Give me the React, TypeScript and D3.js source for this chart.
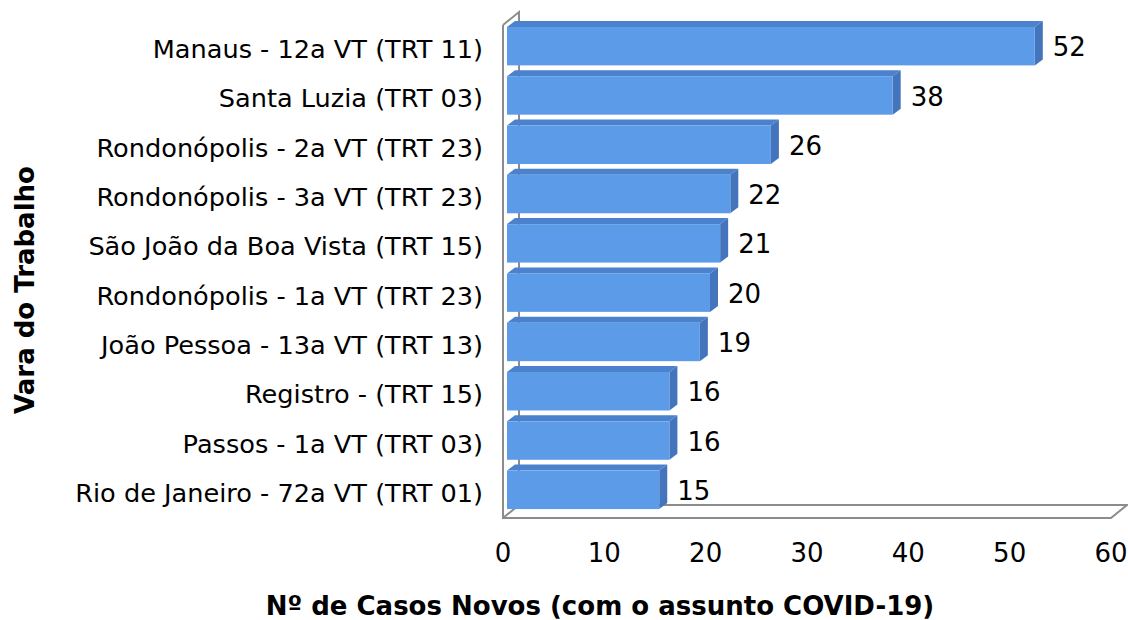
import * as React from 'react'
import * as d3 from 'd3'

const categories = [
    'Manaus - 12a VT (TRT 11)',
    'Santa Luzia (TRT 03)',
    'Rondonópolis - 2a VT (TRT 23)',
    'Rondonópolis - 3a VT (TRT 23)',
    'São João da Boa Vista (TRT 15)',
    'Rondonópolis - 1a VT (TRT 23)',
    'João Pessoa - 13a VT (TRT 13)',
    'Registro - (TRT 15)',
    'Passos - 1a VT (TRT 03)',
    'Rio de Janeiro - 72a VT (TRT 01)',
]
const values = [52, 38, 26, 22, 21, 20, 19, 16, 16, 15]
const ticks = [0, 10, 20, 30, 40, 50, 60]

const W = 1128
const H = 620
const font = 'DejaVu Sans, sans-serif'

// 3d offsets
const DX = 16
const DY = 13
const bdx = 8
const bdy = 6

export default function App() {
    const x = d3.scaleLinear().domain([0, 60]).range([503, 1111])
    const xb = d3.scaleLinear().domain([0, 60]).range([507, 1116])
    const y = d3.scaleBand().domain(categories).range([22, 514]).paddingInner(0.22).paddingOuter(0.1)

    const top = 25
    const bottom = 518
    const x0 = x(0)
    const x1 = x(60)

    return <svg width={W} height={H} style={{ position: 'absolute', left: 0, top: 0 }}>
        <rect width={W} height={H} fill='#fff' />
        {/* walls */}
        <g stroke='#8c8c8c' strokeWidth={2} fill='none'>
            <path d={`M${x0},${top} L${x0 + DX},${top - DY} L${x0 + DX},${bottom - DY}`} />
            <path d={`M${x0},${top} L${x0},${bottom} L${x1},${bottom} L${x1 + DX},${bottom - DY} L${x0 + DX},${bottom - DY} L${x0},${bottom}`} />
        </g>
        {/* bars */}
        {categories.map((c, i) => {
            const y0 = y(c)!
            const h = y.bandwidth()
            const xl = xb(0)
            const xr = xb(values[i])
            return <g key={c}>
                <path d={`M${xl},${y0} L${xl + bdx},${y0 - bdy} L${xr + bdx},${y0 - bdy} L${xr},${y0} Z`} fill='#4b82cd' />
                <path d={`M${xr},${y0} L${xr + bdx},${y0 - bdy} L${xr + bdx},${y0 + h - bdy} L${xr},${y0 + h} Z`} fill='#4474bb' />
                <rect x={xl} y={y0} width={xr - xl} height={h} fill='#5b9be8' />
                <text x={xr + bdx + 10} y={y0 + h / 2 + 1} dy='0.35em' fontFamily={font} fontSize={26} fill='#000'>{values[i]}</text>
                <text x={483} y={y0 + h / 2 + 3} dy='0.35em' textAnchor='end' fontFamily={font} fontSize={25.6} fill='#000'>{c}</text>
            </g>
        })}
        {/* x ticks */}
        {ticks.map(t => (
            <text key={t} x={x(t)} y={553} dy='0.35em' textAnchor='middle' fontFamily={font} fontSize={26} fill='#000'>{t}</text>
        ))}
        <text x={600} y={606} dy='0.35em' textAnchor='middle' fontFamily={font} fontSize={26} fontWeight='bold' fill='#000'>
            Nº de Casos Novos (com o assunto COVID-19)
        </text>
        <text transform={`translate(25,290) rotate(-90)`} dy='0.35em' textAnchor='middle' fontFamily={font} fontSize={26} fontWeight='bold' fill='#000'>
            Vara do Trabalho
        </text>
    </svg>
}
